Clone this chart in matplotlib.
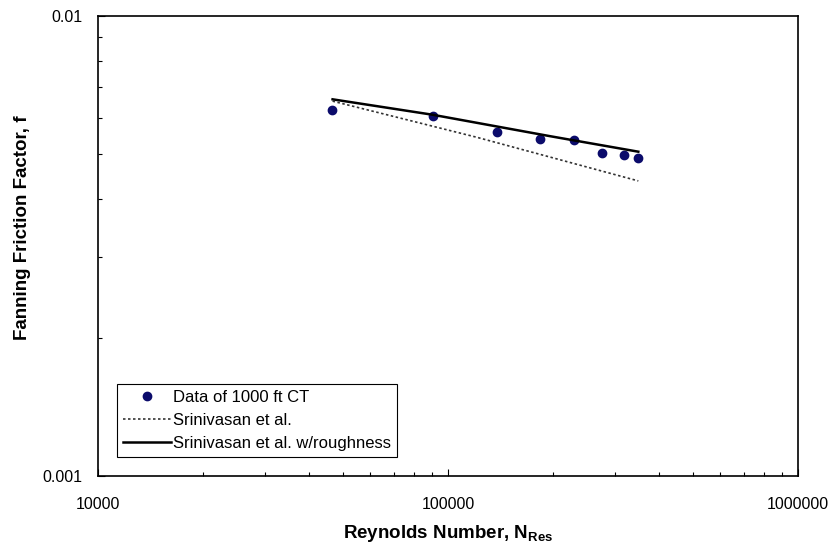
#!/usr/bin/env python3
import matplotlib

matplotlib.use("Agg")

import matplotlib.pyplot as plt
from matplotlib.ticker import LogLocator, NullFormatter, FixedFormatter, FixedLocator

# Measured data, 1000 ft coiled tubing
re_data = [46500, 90400, 137800, 183200, 229100, 274900, 318300, 349800]
f_data = [0.00625, 0.00607, 0.00560, 0.00540, 0.00537, 0.00503, 0.00499, 0.00491]

# Srinivasan et al. correlation (smooth)
re_smooth = [46800, 120800, 349800]
f_smooth = [0.00653, 0.00545, 0.00438]

# Srinivasan et al. with roughness
re_rough = [46800, 90400, 195600, 349800]
f_rough = [0.00659, 0.00610, 0.00548, 0.00507]

x_ticks = [10000, 100000, 1000000]
x_tick_labels = ["10000", "100000", "1000000"]
y_ticks = [0.001, 0.01]
y_tick_labels = ["0.001", "0.01"]

plt.rcParams["font.family"] = ["Liberation Sans", "DejaVu Sans"]
plt.rcParams["mathtext.fontset"] = "custom"
plt.rcParams["mathtext.bf"] = "Liberation Sans:bold"
plt.rcParams["mathtext.rm"] = "Liberation Sans"


def main():
    fig = plt.figure(figsize=(8.34, 5.48), dpi=100)
    ax = fig.add_axes([0.1175, 0.1314, 0.8393, 0.8394])

    ax.plot(re_data, f_data, "o", color="#0b0b6b", markersize=6,
            label="Data of 1000 ft CT")
    ax.plot(re_smooth, f_smooth, color="#333333", linewidth=1.2,
            linestyle=(0, (1.5, 1.5)), label="Srinivasan et al.")
    ax.plot(re_rough, f_rough, "-", color="black", linewidth=1.8,
            label="Srinivasan et al. w/roughness")

    ax.set_xscale("log")
    ax.set_yscale("log")
    ax.set_xlim(1e4, 1e6)
    ax.set_ylim(1e-3, 1e-2)

    ax.xaxis.set_major_locator(FixedLocator(x_ticks))
    ax.xaxis.set_major_formatter(FixedFormatter(x_tick_labels))
    ax.yaxis.set_major_locator(FixedLocator(y_ticks))
    ax.yaxis.set_major_formatter(FixedFormatter(y_tick_labels))
    ax.xaxis.set_minor_locator(LogLocator(base=10, subs=range(2, 10)))
    ax.yaxis.set_minor_locator(LogLocator(base=10, subs=range(2, 10)))
    ax.xaxis.set_minor_formatter(NullFormatter())
    ax.yaxis.set_minor_formatter(NullFormatter())

    ax.tick_params(which="both", direction="in", top=False, right=False,
                   labelsize=11.5, width=0.8)
    ax.tick_params(axis="x", which="major", length=5, pad=15)
    ax.tick_params(axis="y", which="major", length=5, pad=11)
    ax.tick_params(which="minor", length=3)

    for spine in ax.spines.values():
        spine.set_linewidth(1.2)

    ax.set_xlabel("Reynolds Number, N$_{\\mathbf{Res}}$", fontsize=13.5,
                  fontweight="bold")
    ax.set_ylabel("Fanning Friction Factor, f", fontsize=13.5,
                  fontweight="bold")
    ax.xaxis.set_label_coords(0.5, -0.102)
    ax.yaxis.set_label_coords(-0.096, 0.539)

    leg = ax.legend(loc="lower left", bbox_to_anchor=(0.027, 0.041),
                    borderaxespad=0, fontsize=12, fancybox=False,
                    edgecolor="black", framealpha=1, handlelength=2.9,
                    handletextpad=0.1, borderpad=0.35, labelspacing=0.5)
    leg.get_frame().set_linewidth(0.8)

    fig.savefig("out.png", dpi=100)


if __name__ == "__main__":
    main()
